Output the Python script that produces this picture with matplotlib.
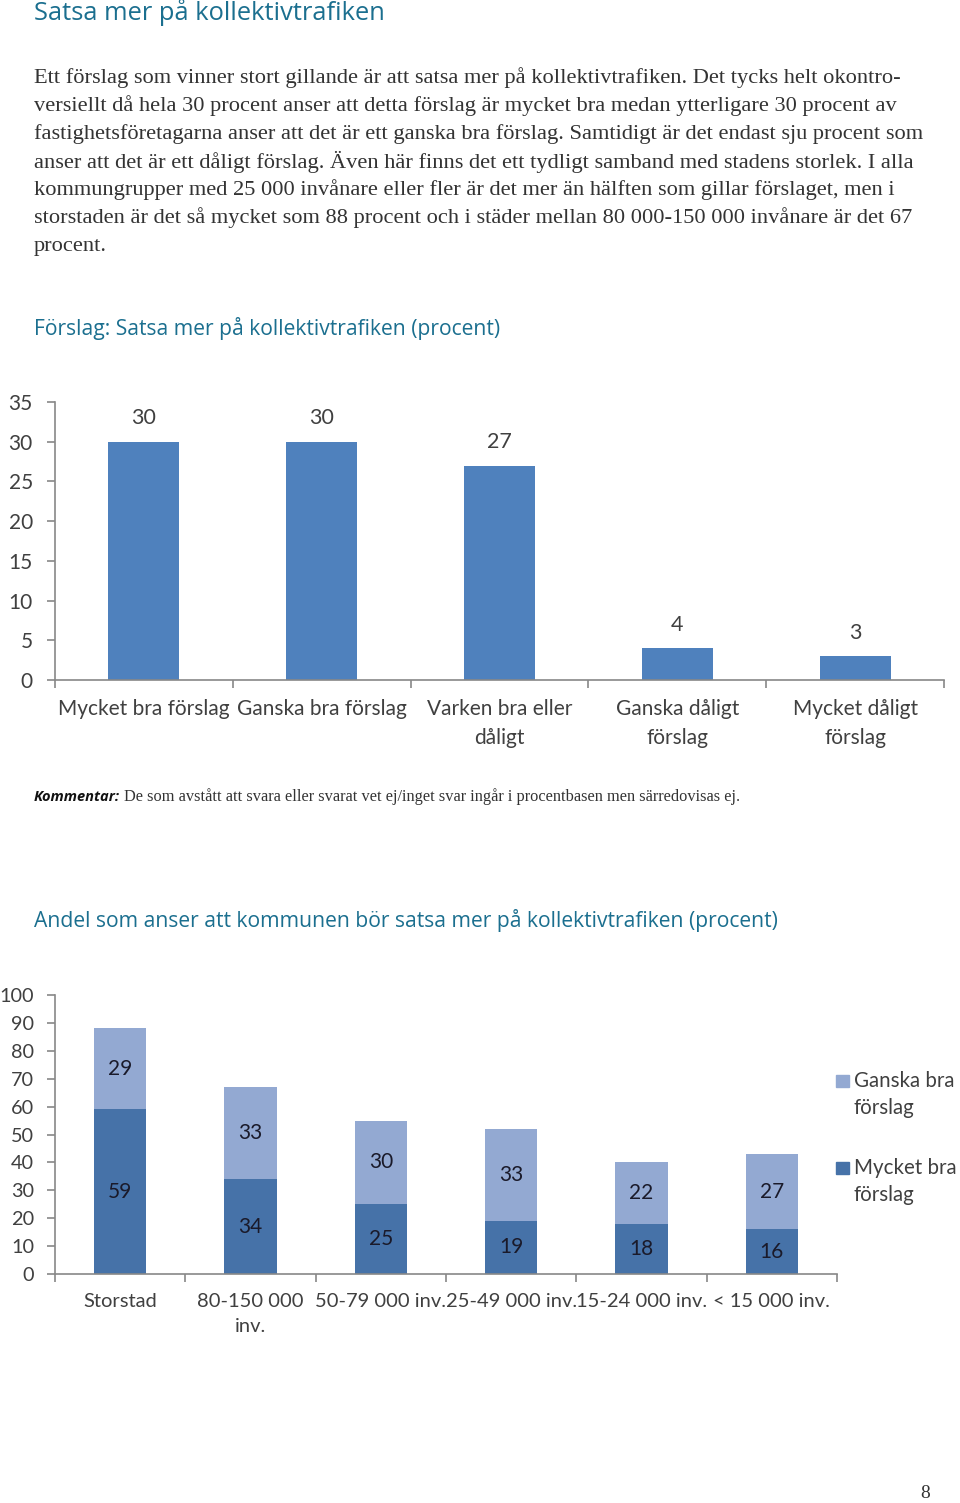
import matplotlib
matplotlib.use("Agg")
import matplotlib.pyplot as plt
from matplotlib.patches import Rectangle
import numpy as np

# ---------------- data ----------------
cats1 = ["Mycket bra förslag", "Ganska bra förslag", "Varken bra eller\ndåligt",
         "Ganska dåligt\nförslag", "Mycket dåligt\nförslag"]
vals1 = [30, 30, 27, 4, 3]
yticks1 = [0, 5, 10, 15, 20, 25, 30, 35]

cats2 = ["Storstad", "80-150 000\ninv.", "50-79 000 inv.", "25-49 000 inv.",
         "15-24 000 inv.", "< 15 000 inv."]
mycket_bra = [59, 34, 25, 19, 18, 16]
ganska_bra = [29, 33, 30, 33, 22, 27]
yticks2 = [0, 10, 20, 30, 40, 50, 60, 70, 80, 90, 100]
legend_labels = ["Ganska bra\nförslag", "Mycket bra\nförslag"]

title = "Satsa mer på kollektivtrafiken"
paragraph = [
    "Ett förslag som vinner stort gillande är att satsa mer på kollektivtrafiken. Det tycks helt okontro-",
    "versiellt då hela 30 procent anser att detta förslag är mycket bra medan ytterligare 30 procent av",
    "fastighetsföretagarna anser att det är ett ganska bra förslag. Samtidigt är det endast sju procent som",
    "anser att det är ett dåligt förslag. Även här finns det ett tydligt samband med stadens storlek. I alla",
    "kommungrupper med 25 000 invånare eller fler är det mer än hälften som gillar förslaget, men i",
    "storstaden är det så mycket som 88 procent och i städer mellan 80 000-150 000 invånare är det 67",
    "procent.",
]
chart1_title = "Förslag: Satsa mer på kollektivtrafiken (procent)"
chart2_title = "Andel som anser att kommunen bör satsa mer på kollektivtrafiken (procent)"
komm_bold = "Kommentar:"
komm_text = "De som avstått att svara eller svarat vet ej/inget svar ingår i procentbasen men särredovisas ej."
page_no = "8"

# ---------------- style ----------------
W, H = 960, 1503
TEAL = "#1b6f8f"
TEXT = "#333333"
AXC = "#888888"
LBL = "#404040"
BAR1 = "#4f81bd"
DARK = "#4672a8"
LIGHT = "#93a9d2"
SANS = ["Lato", "DejaVu Sans"]
SERIF = ["Liberation Serif", "DejaVu Serif"]
HEAD = ["Open Sans", "DejaVu Sans"]
FS = 15

fig = plt.figure(figsize=(W / 100, H / 100), dpi=100)
fig.patch.set_facecolor("white")


def ft(x, y, s, **kw):
    kw.setdefault("va", "center")
    kw.setdefault("ha", "left")
    return fig.text(x / W, 1 - y / H, s, **kw)


def axes_px(left, top, right, bottom):
    return fig.add_axes([left / W, 1 - bottom / H, (right - left) / W, (bottom - top) / H])


# header texts
ft(34, 13, title, fontsize=18.4, color=TEAL, family=HEAD)
for i, line in enumerate(paragraph):
    ft(34, 78 + 28 * i, line, fontsize=16.1, color=TEXT, family=SERIF)
ft(34, 329, chart1_title, fontsize=15.2, color=TEAL, family=HEAD)
ft(34, 920, chart2_title, fontsize=15.2, color=TEAL, family=HEAD)
ft(34, 797, komm_bold, fontsize=10.5, color="#111111", family=HEAD,
   fontweight="bold", fontstyle="italic")
ft(124, 797, komm_text, fontsize=11.8, color=TEXT, family=SERIF)
ft(925, 1494, page_no, fontsize=14, color=TEXT, family=SERIF, ha="center")


def style_axes(ax, n, xfs, yfs, ypad):
    for s in ["top", "right"]:
        ax.spines[s].set_visible(False)
    for s in ["left", "bottom"]:
        ax.spines[s].set_color(AXC)
        ax.spines[s].set_linewidth(1.2)
    ax.set_xlim(-0.5, n - 0.5)
    ax.set_xticks(np.arange(n + 1) - 0.5, minor=True)
    ax.tick_params(axis="x", which="major", length=0, pad=14, labelsize=xfs, labelcolor=LBL)
    ax.tick_params(axis="x", which="minor", length=6, width=1.2, color=AXC, direction="out")
    ax.tick_params(axis="y", which="major", length=6, width=1.2, color=AXC, direction="out",
                   pad=ypad, labelsize=yfs, labelcolor=LBL)
    for lab in ax.get_xticklabels() + ax.get_yticklabels():
        lab.set_family(SANS)


# ---------------- chart 1 ----------------
ax1 = axes_px(55, 402, 944, 680)
x1 = np.arange(len(cats1))
ax1.bar(x1, vals1, width=0.4, color=BAR1, zorder=2)
ax1.set_ylim(0, 35)
ax1.set_yticks(yticks1)
ax1.set_xticks(x1)
ax1.set_xticklabels(cats1, linespacing=1.55)
style_axes(ax1, len(cats1), FS, FS, 10)
for xi, v in zip(x1, vals1):
    ax1.annotate(str(v), (xi, v), xytext=(0, 17), textcoords="offset points",
                 ha="center", va="center", fontsize=15.5, color=LBL, family=SANS)

# ---------------- chart 2 ----------------
ax2 = axes_px(55, 995, 837, 1274)
x2 = np.arange(len(cats2))
ax2.bar(x2, mycket_bra, width=0.4, color=DARK, zorder=2)
ax2.bar(x2, ganska_bra, width=0.4, bottom=mycket_bra, color=LIGHT, zorder=2)
ax2.set_ylim(0, 100)
ax2.set_yticks(yticks2)
ax2.set_xticks(x2)
ax2.set_xticklabels(cats2, linespacing=1.55)
style_axes(ax2, len(cats2), 14.5, 14.3, 9)
for xi, m, g in zip(x2, mycket_bra, ganska_bra):
    ax2.text(xi, m / 2, str(m), ha="center", va="center", fontsize=15,
             color="#1a1a2a", family=SANS)
    ax2.text(xi, m + g / 2, str(g), ha="center", va="center", fontsize=15,
             color="#1a1a2a", family=SANS)

# legend (text lines aligned to the swatch on the first line)
for (ytop, lab, col) in [(1081, legend_labels[0], LIGHT), (1168, legend_labels[1], DARK)]:
    fig.patches.append(Rectangle((836 / W, 1 - (ytop + 6) / H), 13 / W, 12 / H,
                                 transform=fig.transFigure, color=col))
    for j, part in enumerate(lab.split("\n")):
        ft(854, ytop + 27 * j, part, fontsize=14.8, color=LBL, family=SANS)

fig.savefig("out.png", dpi=100, facecolor="white")
